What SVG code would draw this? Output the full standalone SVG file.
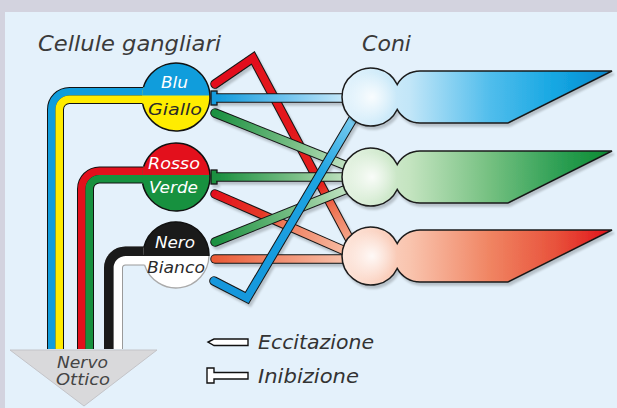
<svg xmlns="http://www.w3.org/2000/svg" width="617" height="408" viewBox="0 0 617 408">
  <style>
    .lbl { font-family: "DejaVu Sans", Verdana, sans-serif; font-style: italic; }
    .title { font-size: 21px; fill: #3a3a3a; }
    .cell { font-size: 16px; }
    .legend { font-size: 20px; fill: #333; }
    .outline { fill: none; stroke: #111; stroke-width: 1.5; }
    .cone { stroke: #1a1a1a; stroke-width: 1.5; stroke-linejoin: miter; }
    .wire-o { fill: none; stroke: #151515; stroke-width: 9.5; stroke-linejoin: miter; }
    .wire-c { fill: none; stroke-width: 7.5; stroke-linejoin: miter; }
    .exc { stroke-linecap: round; }
    .inh { stroke-linecap: butt; }
    .tbar { stroke: #151515; stroke-width: 1.3; }
  </style>
  <defs>
    <filter id="shadow" x="-10%" y="-10%" width="130%" height="130%">
      <feDropShadow dx="2" dy="3" stdDeviation="1.2" flood-color="#000" flood-opacity="0.2"/>
    </filter>
    <radialGradient id="glow">
      <stop offset="0" stop-color="#fff" stop-opacity="0.85"/>
      <stop offset="1" stop-color="#fff" stop-opacity="0"/>
    </radialGradient>
    <linearGradient id="coneBlue" gradientUnits="userSpaceOnUse" x1="342" y1="0" x2="612" y2="0">
      <stop offset="0" stop-color="#e4f3fc"/>
      <stop offset="0.25" stop-color="#c2e6f8"/>
      <stop offset="0.55" stop-color="#50bdec"/>
      <stop offset="0.8" stop-color="#13a6e2"/>
      <stop offset="1" stop-color="#0a86cc"/>
    </linearGradient>
    <linearGradient id="coneGreen" gradientUnits="userSpaceOnUse" x1="342" y1="0" x2="612" y2="0">
      <stop offset="0" stop-color="#e6f3e4"/>
      <stop offset="0.25" stop-color="#c4e4c0"/>
      <stop offset="0.55" stop-color="#74c080"/>
      <stop offset="0.8" stop-color="#2fa055"/>
      <stop offset="1" stop-color="#0a8a30"/>
    </linearGradient>
    <linearGradient id="coneRed" gradientUnits="userSpaceOnUse" x1="342" y1="0" x2="612" y2="0">
      <stop offset="0" stop-color="#fde6dc"/>
      <stop offset="0.25" stop-color="#f9c4ae"/>
      <stop offset="0.55" stop-color="#f08462"/>
      <stop offset="0.8" stop-color="#e8503a"/>
      <stop offset="1" stop-color="#e0101a"/>
    </linearGradient>
    <!-- connector fills: saturated at the ganglion end, pale at the cone end -->
    <linearGradient id="gC1" gradientUnits="userSpaceOnUse" x1="216" y1="0" x2="352" y2="0">
      <stop offset="0" stop-color="#129bdc"/>
      <stop offset="0.5" stop-color="#6cc2ee"/>
      <stop offset="1" stop-color="#d0ecfa"/>
    </linearGradient>
    <linearGradient id="gC2" gradientUnits="userSpaceOnUse" x1="253" y1="57" x2="350" y2="240">
      <stop offset="0" stop-color="#e3101c"/>
      <stop offset="0.7" stop-color="#e3201c"/>
      <stop offset="0.82" stop-color="#ee7050"/>
      <stop offset="1" stop-color="#f6a88c"/>
    </linearGradient>
    <linearGradient id="gC3" gradientUnits="userSpaceOnUse" x1="214" y1="113" x2="352" y2="168">
      <stop offset="0" stop-color="#1a9040"/>
      <stop offset="0.6" stop-color="#7cc088"/>
      <stop offset="1" stop-color="#c8e6c8"/>
    </linearGradient>
    <linearGradient id="gC4" gradientUnits="userSpaceOnUse" x1="216" y1="0" x2="352" y2="0">
      <stop offset="0" stop-color="#1a9040"/>
      <stop offset="0.6" stop-color="#7cc088"/>
      <stop offset="1" stop-color="#c8e6c8"/>
    </linearGradient>
    <linearGradient id="gC5" gradientUnits="userSpaceOnUse" x1="214" y1="194" x2="352" y2="254">
      <stop offset="0" stop-color="#e3101c"/>
      <stop offset="0.35" stop-color="#e63a28"/>
      <stop offset="0.5" stop-color="#ee7a5a"/>
      <stop offset="1" stop-color="#f8c4ac"/>
    </linearGradient>
    <linearGradient id="gC6" gradientUnits="userSpaceOnUse" x1="214" y1="242" x2="352" y2="187">
      <stop offset="0" stop-color="#1a9040"/>
      <stop offset="0.6" stop-color="#7cc088"/>
      <stop offset="1" stop-color="#c8e6c8"/>
    </linearGradient>
    <linearGradient id="gC7" gradientUnits="userSpaceOnUse" x1="214" y1="0" x2="352" y2="0">
      <stop offset="0" stop-color="#ea5a36"/>
      <stop offset="1" stop-color="#f8c8b2"/>
    </linearGradient>
    <linearGradient id="gC8" gradientUnits="userSpaceOnUse" x1="213" y1="281" x2="354" y2="117">
      <stop offset="0" stop-color="#1597dc"/>
      <stop offset="0.7" stop-color="#1ea4e2"/>
      <stop offset="1" stop-color="#7cccf0"/>
    </linearGradient>
  </defs>

  <!-- background and panel -->
  <rect x="0" y="0" width="617" height="408" fill="#d3d3df"/>
  <rect x="5" y="12" width="612" height="396" fill="#e4f1fb"/>

  <!-- headings -->
  <text class="lbl title" x="38" y="51" textLength="183" lengthAdjust="spacingAndGlyphs">Cellule gangliari</text>
  <text class="lbl title" x="362" y="51" textLength="49" lengthAdjust="spacingAndGlyphs">Coni</text>

  <!-- ganglion cell: blue / yellow -->
  <g id="gc-blu-giallo">
    <path d="M 150 95.5 H 69.5 A 14 14 0 0 0 55.5 109.5 V 349" fill="none" stroke="#111" stroke-width="17"/>
    <path d="M 150 91.75 H 69.5 A 17.75 17.75 0 0 0 51.75 109.5 V 349" fill="none" stroke="#109ddc" stroke-width="7.5"/>
    <path d="M 150 99.25 H 69.5 A 10.25 10.25 0 0 0 59.25 109.5 V 349" fill="none" stroke="#ffec00" stroke-width="7.5"/>
    <circle cx="176" cy="97" r="34" fill="#ffec00"/>
    <path d="M 142.03 95.5 A 34 34 0 0 1 209.97 95.5 Z" fill="#109ddc"/>
    <path class="outline" d="M 143.5 87 A 34 34 0 1 1 142.73 104"/>
    <text class="lbl cell" x="161" y="88" fill="#fff" textLength="27" lengthAdjust="spacingAndGlyphs">Blu</text>
    <text class="lbl cell" x="148" y="115" fill="#2a2a2a" textLength="54" lengthAdjust="spacingAndGlyphs">Giallo</text>
  </g>

  <!-- ganglion cell: red / green -->
  <g id="gc-rosso-verde">
    <path d="M 150 175 H 99.5 A 14 14 0 0 0 85.5 189 V 349" fill="none" stroke="#111" stroke-width="17"/>
    <path d="M 150 171.25 H 99.5 A 17.75 17.75 0 0 0 81.75 189 V 349" fill="none" stroke="#e3101c" stroke-width="7.5"/>
    <path d="M 150 178.75 H 99.5 A 10.25 10.25 0 0 0 89.25 189 V 349" fill="none" stroke="#17913f" stroke-width="7.5"/>
    <circle cx="176" cy="177" r="34" fill="#17913f"/>
    <path d="M 142.06 175 A 34 34 0 0 1 209.94 175 Z" fill="#e3101c"/>
    <path class="outline" d="M 143.66 166.5 A 34 34 0 1 1 142.63 183.5"/>
    <text class="lbl cell" x="148" y="169" fill="#fff" textLength="52" lengthAdjust="spacingAndGlyphs">Rosso</text>
    <text class="lbl cell" x="149" y="193" fill="#fff" textLength="49" lengthAdjust="spacingAndGlyphs">Verde</text>
  </g>

  <!-- ganglion cell: black / white -->
  <g id="gc-nero-bianco">
    <path d="M 150 256 H 125.5 A 12 12 0 0 0 113.5 268 V 349" fill="none" stroke="#9a9a9a" stroke-width="19"/>
    <path d="M 150 260.25 H 125.5 A 7.75 7.75 0 0 0 117.75 268 V 349" fill="none" stroke="#fff" stroke-width="8.5"/>
    <path d="M 150 251.25 H 125.5 A 16.75 16.75 0 0 0 108.75 268 V 349" fill="none" stroke="#1a1a1a" stroke-width="9.5"/>
    <circle cx="176" cy="255" r="33" fill="#fff"/>
    <path d="M 143.02 256 A 33 33 0 1 1 208.98 256 Z" fill="#1a1a1a"/>
    <path class="outline" d="M 143.98 247 A 33 33 0 0 1 208.98 256"/>
    <path d="M 208.98 256 A 33 33 0 0 1 144.55 265" fill="none" stroke="#aaa" stroke-width="1.3"/>
    <text class="lbl cell" x="155" y="248" fill="#fff" textLength="40" lengthAdjust="spacingAndGlyphs">Nero</text>
    <text class="lbl cell" x="147" y="273" fill="#2a2a2a" textLength="58" lengthAdjust="spacingAndGlyphs">Bianco</text>
  </g>

  <!-- optic nerve -->
  <g id="nervo-ottico">
    <polygon points="10,350 157,350 84,406" fill="#d9d9db" stroke="#c4c4c8" stroke-width="1"/>
    <text class="lbl" x="57" y="368" font-size="15" fill="#444" textLength="51" lengthAdjust="spacingAndGlyphs">Nervo</text>
    <text class="lbl" x="56" y="385" font-size="15" fill="#444" textLength="54" lengthAdjust="spacingAndGlyphs">Ottico</text>
  </g>

  <!-- connectors: cone to ganglion cell -->
  <g id="connectors" filter="url(#shadow)">
    <!-- red cone to blue/yellow (excitation) -->
    <path class="wire-o exc" d="M 215 84 L 253 58 L 350 240"/>
    <path class="wire-c exc" d="M 215 84 L 253 58 L 350 240" stroke="url(#gC2)"/>
    <!-- green cone to blue/yellow (excitation) -->
    <path class="wire-o exc" d="M 215 113 L 352 168"/>
    <path class="wire-c exc" d="M 215 113 L 352 168" stroke="url(#gC3)"/>
    <!-- red cone to red/green (excitation) -->
    <path class="wire-o exc" d="M 215 194 L 352 254"/>
    <path class="wire-c exc" d="M 215 194 L 352 254" stroke="url(#gC5)"/>
    <!-- green cone to black (excitation) -->
    <path class="wire-o exc" d="M 215 242 L 352 187"/>
    <path class="wire-c exc" d="M 215 242 L 352 187" stroke="url(#gC6)"/>
    <!-- green cone to red/green (inhibition) -->
    <rect class="tbar" x="211" y="170" width="6" height="14" fill="#1a9040"/>
    <path class="wire-o inh" d="M 216.5 177 H 355"/>
    <path class="wire-c inh" d="M 216 177 H 355" stroke="url(#gC4)"/>
    <!-- blue cone to blue/yellow (inhibition) -->
    <rect class="tbar" x="211" y="91" width="6" height="14" fill="#129bdc"/>
    <path class="wire-o inh" d="M 216.5 98 H 355"/>
    <path class="wire-c inh" d="M 216 98 H 355" stroke="url(#gC1)"/>
    <!-- red cone to white (excitation) -->
    <path class="wire-o exc" d="M 215 259 H 355"/>
    <path class="wire-c exc" d="M 215 259 H 355" stroke="url(#gC7)"/>
    <!-- blue cone to white -->
    <path class="wire-o exc" d="M 214 281 L 247 298 L 354 117"/>
    <path class="wire-c exc" d="M 214 281 L 247 298 L 354 117" stroke="url(#gC8)"/>
  </g>

  <!-- cones -->
  <g id="cone-blu" filter="url(#shadow)">
    <path class="cone" fill="url(#coneBlue)" d="M 420 71 L 612 71 L 508 123 L 420 123 A 26 26 0 0 1 397.18 109.47 A 29 29 0 1 1 397.18 84.53 A 26 26 0 0 1 420 71 Z"/>
    <ellipse cx="372" cy="97" rx="25" ry="25" fill="url(#glow)"/>
  </g>
  <g id="cone-verde" filter="url(#shadow)">
    <path class="cone" fill="url(#coneGreen)" d="M 420 151 L 612 151 L 508 203 L 420 203 A 26 26 0 0 1 397.18 189.47 A 29 29 0 1 1 397.18 164.53 A 26 26 0 0 1 420 151 Z"/>
    <ellipse cx="372" cy="177" rx="25" ry="25" fill="url(#glow)"/>
  </g>
  <g id="cone-rosso" filter="url(#shadow)">
    <path class="cone" fill="url(#coneRed)" d="M 420 230 L 612 230 L 508 282 L 420 282 A 26 26 0 0 1 397.18 268.47 A 29 29 0 1 1 397.18 243.53 A 26 26 0 0 1 420 230 Z"/>
    <ellipse cx="372" cy="256" rx="25" ry="25" fill="url(#glow)"/>
  </g>

  <!-- legend -->
  <g id="legend">
    <path d="M 248 339 H 214 L 208 342 L 214 345.5 H 248 Z" fill="#fff" stroke="#111" stroke-width="1.4"/>
    <text class="lbl legend" x="258" y="349" textLength="116" lengthAdjust="spacingAndGlyphs">Eccitazione</text>
    <path d="M 248 372.5 H 214 V 368 H 207 V 383 H 214 V 379 H 248 Z" fill="#fff" stroke="#111" stroke-width="1.4"/>
    <text class="lbl legend" x="258" y="383" textLength="101" lengthAdjust="spacingAndGlyphs">Inibizione</text>
  </g>
</svg>
